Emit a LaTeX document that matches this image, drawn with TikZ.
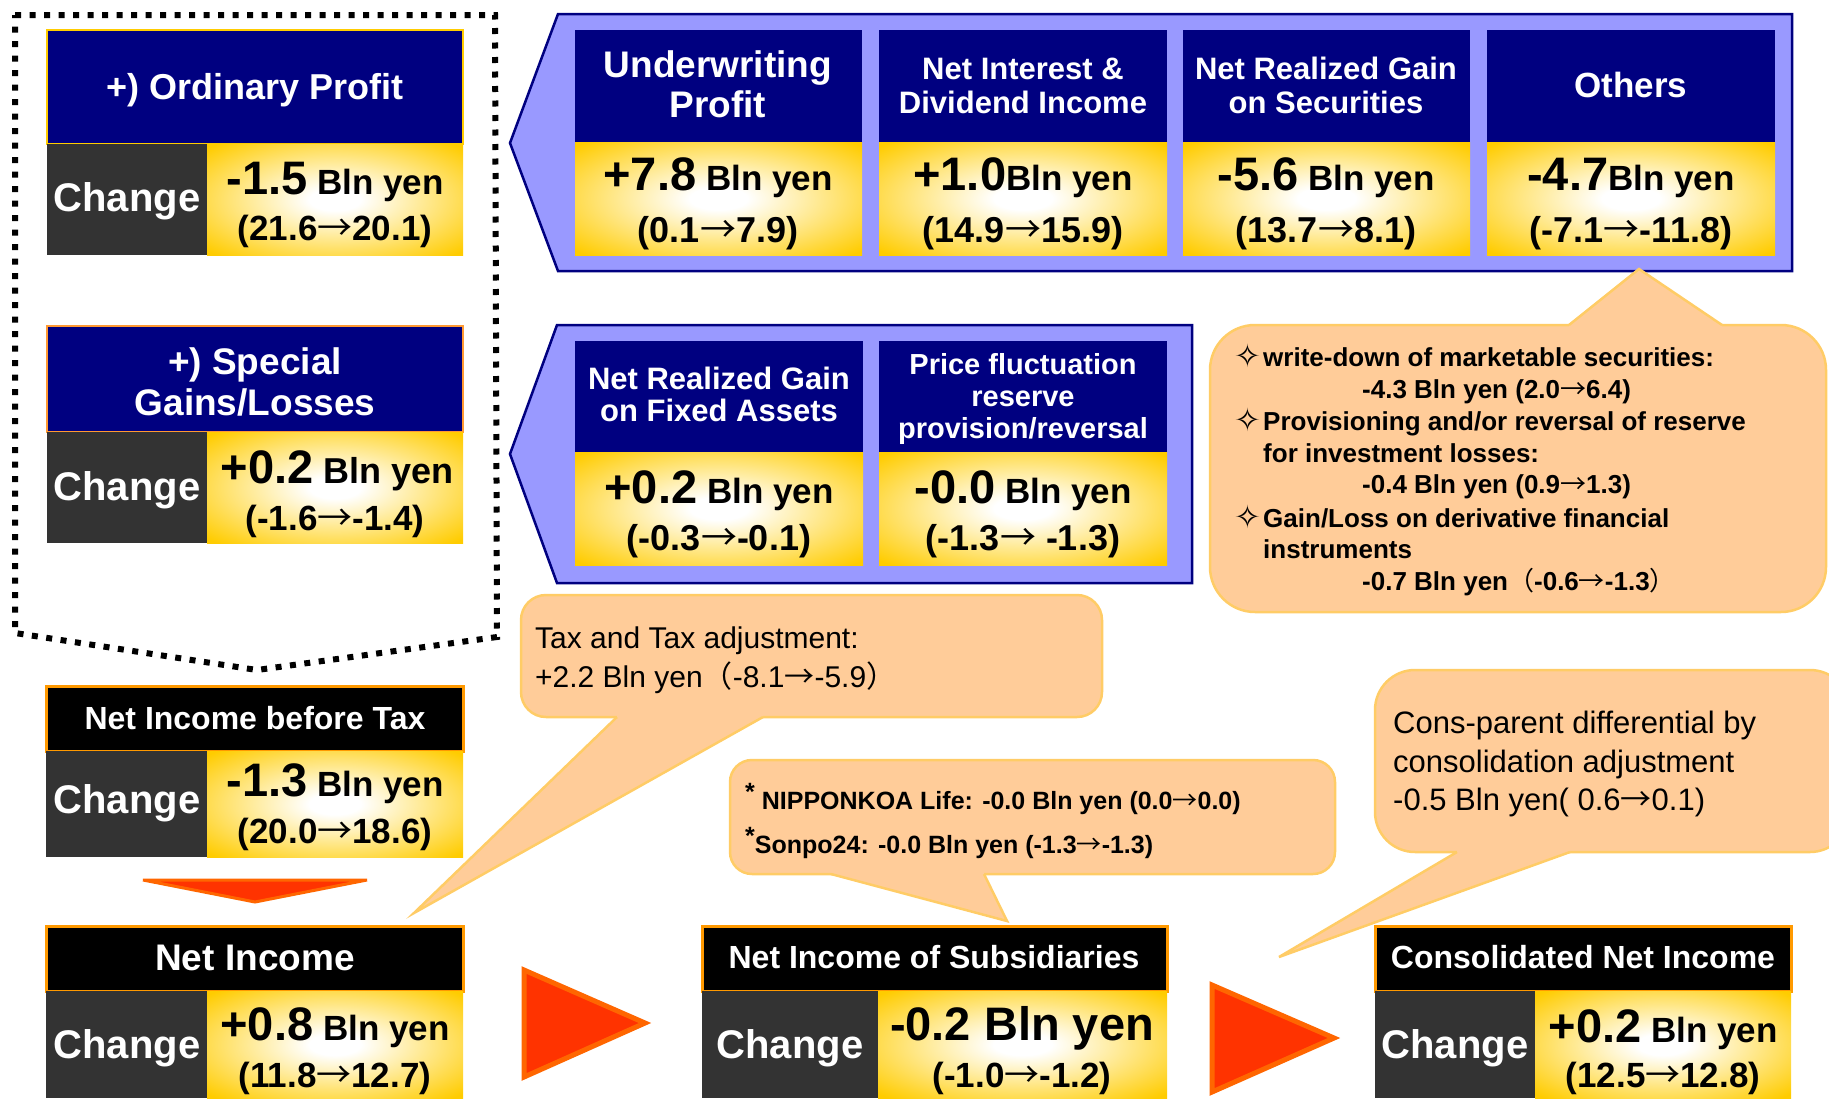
\documentclass[tikz,border=0pt]{standalone}
\usepackage{fontspec}
\setmainfont{Liberation Sans}
\newfontfamily\symfont{DejaVu Sans}
\newfontfamily\cjk{Noto Sans CJK JP}
\definecolor{navy}{HTML}{000080}
\definecolor{darkcell}{HTML}{333333}
\definecolor{goldc}{HTML}{FFCC00}
\definecolor{lav}{HTML}{9999FF}
\definecolor{callfill}{HTML}{FFCC99}
\definecolor{callline}{HTML}{FFCC66}
\definecolor{arrfill}{HTML}{FF3300}
\definecolor{arrline}{HTML}{FF6600}
\definecolor{hdrorange}{HTML}{FF9900}
\definecolor{sporange}{HTML}{FF9933}
\pgfdeclareradialshading{goldrad}{\pgfpoint{0bp}{0bp}}{color(0bp)=(white); color(5bp)=(white); color(34bp)=(goldc); color(50bp)=(goldc)}
\newcommand\fs[1]{\fontsize{#1}{#1}\selectfont}
\newcommand\arr{{\cjk\mdseries →}}
\begin{document}
\begin{tikzpicture}[x=1pt,y=-1pt,
  hdrtxt/.style={text=white,font=\bfseries\fs{#1},inner sep=0pt,anchor=base},
  valtxt/.style={text=black,font=\bfseries\fs{#1},inner sep=0pt,anchor=base},
  notetxt/.style={text=black,font=\fs{#1},inner sep=0pt,anchor=base west},
  notebold/.style={text=black,font=\bfseries\fs{#1},inner sep=0pt,anchor=base west},
  bullet/.style={font=\symfont\fs{32},inner sep=0pt,anchor=base west},
  darkbox/.style={fill=darkcell},
  goldbox/.style={shading=goldrad},
  pent/.style={fill=lav,draw=navy,line width=2.5pt,line join=miter},
  callbody/.style={fill=callfill,draw=callline,line width=2.5pt,rounded corners=#1},
  calltail/.style={fill=callfill},
  tailline/.style={draw=callline,line width=2.5pt},
  bigarrow/.style={fill=arrfill,draw=arrline,line width=5pt,line join=miter},
  dotbord/.style={draw=black,line width=6pt,dash pattern=on 6pt off 8.5pt},
  blackhdr/.style={fill=black,draw=hdrorange,line width=3pt}]
\useasboundingbox (0,0) rectangle (1829,1098);
\fill[white] (0,0) rectangle (1829,1098);

% dotted frame
\draw[dotbord] (15,15) -- (495,15) -- (497,637) -- (257,670) -- (15,633) -- cycle;

% pentagons
\draw[pent] (510,143) -- (558,14) -- (1792,14) -- (1792,271) -- (558,271) -- cycle;
\draw[pent] (510,454) -- (557,325) -- (1192,325) -- (1192,583) -- (557,583) -- cycle;

% Ordinary profit
\draw[fill=navy,draw=goldc,line width=2.5pt] (47,30) rectangle (463,144);
\fill[darkbox] (47,144) rectangle (207,255);
\shade[goldbox] (207,144) rectangle (463,255);
\node[hdrtxt=36] (oph) at (255,99) {+) Ordinary Profit};
\node[hdrtxt=40] (opc) at (127,211) {Change};
\node[valtxt=47] (opv) at (335,194) {-1.5\fs{35} Bln yen};
\node[valtxt=35] (opp) at (335,240) {(21.6\arr20.1)};

% Special gains/losses
\draw[fill=navy,draw=sporange,line width=2.5pt] (47,326) rectangle (463,432);
\fill[darkbox] (47,432) rectangle (207,543);
\shade[goldbox] (207,432) rectangle (463,543);
\node[hdrtxt=37] (sph1) at (255,374) {+) Special};
\node[hdrtxt=37] (sph2) at (255,415) {Gains/Losses};
\node[hdrtxt=40] (spc) at (127,500) {Change};
\node[valtxt=47] (spv) at (337,483) {+0.2\fs{36} Bln yen};
\node[valtxt=35] (spp) at (335,530) {(-1.6\arr-1.4)};

% top row boxes
\fill[navy] (575,30) rectangle (862,142);
\shade[goldbox] (575,142) rectangle (862,255);
\fill[navy] (879,30) rectangle (1167,142);
\shade[goldbox] (879,142) rectangle (1167,255);
\fill[navy] (1183,30) rectangle (1470,142);
\shade[goldbox] (1183,142) rectangle (1470,255);
\fill[navy] (1487,30) rectangle (1775,142);
\shade[goldbox] (1487,142) rectangle (1775,255);
\node[hdrtxt=37] (uwh1) at (718,77) {Underwriting};
\node[hdrtxt=37] (uwh2) at (718,117) {Profit};
\node[hdrtxt=31] (nih1) at (1023,79) {Net Interest \&};
\node[hdrtxt=31] (nih2) at (1023,113) {Dividend Income};
\node[hdrtxt=31] (nrh1) at (1326,79) {Net Realized Gain};
\node[hdrtxt=31] (nrh2) at (1326,113) {on Securities};
\node[hdrtxt=35] (oth) at (1631,97) {Others};
\node[valtxt=47] (uwv) at (718,190) {+7.8\fs{35} Bln yen};
\node[valtxt=36] (uwp) at (718,242) {(0.1\arr7.9)};
\node[valtxt=47] (niv) at (1023,190) {+1.0\fs{35}Bln yen};
\node[valtxt=36] (nip) at (1023,242) {(14.9\arr15.9)};
\node[valtxt=47] (nrv) at (1326,190) {-5.6\fs{35} Bln yen};
\node[valtxt=36] (nrp) at (1326,242) {(13.7\arr8.1)};
\node[valtxt=47] (otv) at (1631,190) {-4.7\fs{35}Bln yen};
\node[valtxt=36] (otp) at (1631,242) {(-7.1\arr-11.8)};

% second row boxes
\fill[navy] (575,341) rectangle (863,452);
\shade[goldbox] (575,452) rectangle (863,565);
\fill[navy] (879,341) rectangle (1167,452);
\shade[goldbox] (879,452) rectangle (1167,565);
\node[hdrtxt=31] (fah1) at (719,389) {Net Realized Gain};
\node[hdrtxt=31] (fah2) at (719,421) {on Fixed Assets};
\node[hdrtxt=29] (pfh1) at (1023,374) {Price fluctuation};
\node[hdrtxt=29] (pfh2) at (1023,406) {reserve};
\node[hdrtxt=29] (pfh3) at (1023,438) {provision/reversal};
\node[valtxt=47] (fav) at (719,503) {+0.2\fs{35} Bln yen};
\node[valtxt=36] (fap) at (719,550) {(-0.3\arr-0.1)};
\node[valtxt=47] (pfv) at (1023,503) {-0.0\fs{35} Bln yen};
\node[valtxt=36] (pfp) at (1023,550) {(-1.3\arr\ -1.3)};

% callout: others details
\draw[callbody=45] (1210,325) rectangle (1826,612);
\fill[calltail] (1569,329) -- (1722,329) -- (1722,325) -- (1639,269) -- (1569,325) -- cycle;
\draw[tailline] (1569,325) -- (1639,269) -- (1722,325);
\node[bullet] (b1) at (1234,367) {✧};
\node[notebold=26] (t1) at (1263,366) {write-down of marketable securities:};
\node[notebold=26] (t2) at (1362,398) {-4.3 Bln yen (2.0\arr6.4)};
\node[bullet] (b2) at (1234,431) {✧};
\node[notebold=26] (t3) at (1263,430) {Provisioning and/or reversal of reserve};
\node[notebold=26] (t4) at (1263,462) {for investment losses:};
\node[notebold=26] (t5) at (1362,493) {-0.4 Bln yen (0.9\arr1.3)};
\node[bullet] (b3) at (1234,528) {✧};
\node[notebold=26] (t6) at (1263,527) {Gain/Loss on derivative financial};
\node[notebold=26] (t7) at (1263,558) {instruments};
\node[notebold=26] (t8) at (1362,590) {-0.7 Bln yen{\cjk\mdseries （}-0.6\arr-1.3{\cjk\mdseries ）}};

% Net income before tax
\draw[blackhdr] (46,686) rectangle (463,751);
\fill[darkbox] (46,751) rectangle (207,857);
\shade[goldbox] (207,751) rectangle (463,857);
\node[hdrtxt=32] (nbh) at (255,729) {Net Income before Tax};
\node[hdrtxt=40] (nbc) at (127,813) {Change};
\node[valtxt=47] (nbv) at (335,796) {-1.3\fs{35} Bln yen};
\node[valtxt=35] (nbp) at (335,843) {(20.0\arr18.6)};

% down arrow
\draw[bigarrow,line width=3pt] (143,880) -- (367,880) -- (255,902) -- cycle;

% Net income
\draw[blackhdr] (46,926) rectangle (463,991);
\fill[darkbox] (46,991) rectangle (207,1098);
\shade[goldbox] (207,991) rectangle (463,1098);
\node[hdrtxt=37] (nth) at (255,970) {Net Income};
\node[hdrtxt=40] (ntc) at (127,1058) {Change};
\node[valtxt=47] (ntv) at (335,1040) {+0.8\fs{35} Bln yen};
\node[valtxt=35] (ntp) at (335,1087) {(11.8\arr12.7)};

% Net income of subsidiaries
\draw[blackhdr] (702,926) rectangle (1167,991);
\fill[darkbox] (702,991) rectangle (878,1098);
\shade[goldbox] (878,991) rectangle (1167,1098);
\node[hdrtxt=32] (nsh) at (934,968) {Net Income of Subsidiaries};
\node[hdrtxt=40] (nsc) at (790,1058) {Change};
\node[valtxt=47] (nsv) at (1022,1040) {-0.2 Bln yen};
\node[valtxt=35] (nsp) at (1022,1087) {(-1.0\arr-1.2)};

% Consolidated net income
\draw[blackhdr] (1375,926) rectangle (1791,991);
\fill[darkbox] (1375,991) rectangle (1535,1098);
\shade[goldbox] (1535,991) rectangle (1791,1098);
\node[hdrtxt=32] (cnh) at (1583,968) {Consolidated Net Income};
\node[hdrtxt=40] (cnc) at (1455,1058) {Change};
\node[valtxt=47] (cnv) at (1663,1042) {+0.2\fs{35} Bln yen};
\node[valtxt=35] (cnp) at (1663,1087) {(12.5\arr12.8)};

% right arrows
\draw[bigarrow] (524,970) -- (645,1023) -- (524,1077) -- cycle;
\draw[bigarrow] (1212,985) -- (1334,1038) -- (1212,1092) -- cycle;

% callout: tax
\draw[callbody=25] (521,595) rectangle (1102,717);
\fill[calltail] (617,713) -- (763,713) -- (763,717) -- (414,913) -- (617,717) -- cycle;
\draw[tailline] (617,717) -- (414,913) -- (763,717);
\node[notetxt=30] (tx1) at (535,648) {Tax and Tax adjustment:};
\node[notetxt=30] (tx2) at (535,687) {+2.2 Bln yen{\cjk （}-8.1\arr-5.9{\cjk ）}};

% callout: subsidiaries
\draw[callbody=22] (730,760) rectangle (1335,874);
\fill[calltail] (831,870) -- (984,870) -- (984,874) -- (1007,921) -- (831,874) -- cycle;
\draw[tailline] (831,874) -- (1007,921) -- (984,874);
\node[notebold=25] (sb1) at (745,809) {\raisebox{0.35em}{*} NIPPONKOA Life: -0.0 Bln yen (0.0\arr0.0)};
\node[notebold=25] (sb2) at (745,853) {\raisebox{0.35em}{*}Sonpo24: -0.0 Bln yen (-1.3\arr-1.3)};

% callout: consolidation
\draw[callbody=40] (1375,670) rectangle (1850,852);
\fill[calltail] (1457,848) -- (1570,848) -- (1570,852) -- (1279,957) -- (1457,852) -- cycle;
\draw[tailline] (1457,852) -- (1279,957) -- (1570,852);
\node[notetxt=31] (cn1) at (1393,733) {Cons-parent differential by};
\node[notetxt=31] (cn2) at (1393,772) {consolidation adjustment};
\node[notetxt=31] (cn3) at (1393,810) {-0.5 Bln yen( 0.6\arr0.1)};
\end{tikzpicture}
\end{document}
